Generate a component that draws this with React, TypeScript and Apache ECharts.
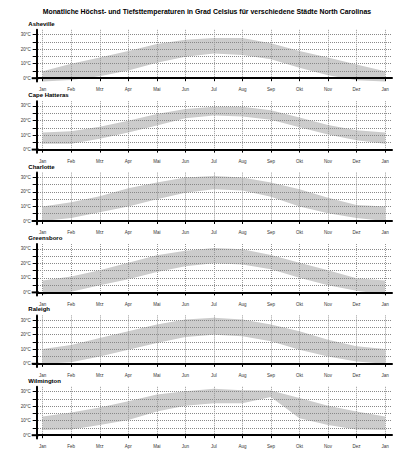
import { useEffect, useRef } from 'react';
import * as echarts from 'echarts';

const months = ['Jan', 'Feb', 'Mrz', 'Apr', 'Mai', 'Jun', 'Jul', 'Aug', 'Sep', 'Okt', 'Nov', 'Dez', 'Jan'];
const cities = ['Asheville', 'Cape Hatteras', 'Charlotte', 'Greensboro', 'Raleigh', 'Wilmington'];

const ashevilleHigh = [4.7, 10, 14.2, 18.8, 23.5, 26.5, 27.7, 27.7, 24, 18.8, 14.2, 9.5, 4.7];
const ashevilleLow = [-2.3, -1.3, 1.4, 5.3, 10.7, 14.7, 17, 16, 13, 7.2, 2.1, -1.4, -2.3];
const capeHatterasHigh = [11.8, 12.7, 15.8, 19.8, 24.5, 28, 29.4, 29.4, 27, 22, 17, 13.4, 11.8];
const capeHatterasLow = [4, 4, 7.5, 11.8, 16.5, 21.6, 23.5, 22.8, 20.5, 15.3, 10.4, 6.4, 4];
const charlotteHigh = [10, 12.9, 17, 22.5, 26.5, 30, 31, 30, 26.5, 21.8, 16, 11, 10];
const charlotteLow = [0, 2, 6, 10, 15, 19.5, 21.8, 21, 16.6, 10, 5.4, 2, 0];
const greensboroHigh = [8.2, 11, 15.2, 20.4, 25.5, 28.6, 30.5, 29.7, 25.8, 20.4, 15.2, 9.8, 8.2];
const greensboroLow = [-1.4, 0.5, 5, 9, 14, 18, 20, 19.2, 16, 10, 5, 1.2, -1.4];
const raleighHigh = [10.2, 13, 17.8, 22.4, 27, 30.5, 31.6, 30.5, 27, 22.4, 16.6, 12, 10.2];
const raleighLow = [0, 1, 5, 9.7, 14.3, 18.5, 20, 19, 15.5, 9.7, 5, 1.6, 0];
const wilmingtonHigh = [12.8, 15.6, 19, 23.3, 28, 30.2, 31.9, 31, 30.7, 25.6, 20.2, 16.3, 12.8];
const wilmingtonLow = [3.5, 4, 7, 10.5, 16.3, 20.2, 22, 22, 26.3, 11.6, 7, 4, 3.5];

const highs = [ashevilleHigh, capeHatterasHigh, charlotteHigh, greensboroHigh, raleighHigh, wilmingtonHigh];
const lows = [ashevilleLow, capeHatterasLow, charlotteLow, greensboroLow, raleighLow, wilmingtonLow];

const yTickValues = [0, 5, 10, 15, 20, 25, 30];
const yLabelValues = [0, 10, 20, 30];
const xTickValues = months.map((_, k) => k);

const TITLE = 'Monatliche Höchst- und Tiefsttemperaturen in Grad Celsius für verschiedene Städte North Carolinas';
const FONT = '"Liberation Sans", Arial, Helvetica, sans-serif';

// layout
const W = 400;
const H = 457;
const GRID_LEFT = 38;
const GRID_RIGHT = 8;
const FIRST_TOP = 29.8;
const STEP = 71.4;
const GRID_H = 51.6;
const X_MIN = -0.165;
const X_MAX = 12.245;
const Y_MIN = -2.2;
const Y_MAX = 33.3;
const AXIS_EXT_LEFT = 31.7;

export default function App() {
  const ref = useRef<HTMLDivElement>(null);

  useEffect(() => {
    if (!ref.current) return;
    const chart = echarts.init(ref.current, null, { renderer: 'svg', width: W, height: H });

    const grids = cities.map((_, i) => ({
      left: GRID_LEFT,
      right: GRID_RIGHT,
      top: FIRST_TOP + STEP * i,
      height: GRID_H,
      outerBoundsMode: 'none',
      containLabel: false,
    }));

    const xAxes = cities.map((_, i) => ({
      type: 'value',
      gridIndex: i,
      min: X_MIN,
      max: X_MAX,
      z: 3,
      axisLine: { show: true, onZero: true, lineStyle: { color: '#000', width: 2 } },
      axisTick: { show: true, customValues: xTickValues, length: 3, lineStyle: { color: '#000', width: 1 } },
      axisLabel: {
        show: true,
        customValues: xTickValues,
        formatter: (v: number) => months[Math.round(v)] ?? '',
        fontSize: 4.5,
        color: '#333',
        fontFamily: FONT,
        margin: 6,
        hideOverlap: false,
      },
      splitLine: { show: true, lineStyle: { color: '#999', width: 1, type: [1, 1] } },
    }));

    const yAxes = cities.map((_, i) => ({
      type: 'value',
      gridIndex: i,
      min: Y_MIN,
      max: Y_MAX,
      offset: 1.3,
      z: 3,
      axisLine: { show: true, onZero: false, lineStyle: { color: '#000', width: 2 } },
      axisTick: { show: true, customValues: yTickValues, length: 4, lineStyle: { color: '#000', width: 1 } },
      axisLabel: {
        show: true,
        customValues: yLabelValues,
        formatter: (v: number) => `${v}°C`,
        fontSize: 4.5,
        color: '#333',
        fontFamily: FONT,
        margin: 6,
        hideOverlap: false,
      },
      splitLine: { show: true, lineStyle: { color: '#888', width: 1, type: [1, 1] } },
    }));

    const series = cities.map((_, i) => ({
      type: 'custom',
      xAxisIndex: i,
      yAxisIndex: i,
      z: 1,
      silent: true,
      clip: false,
      data: months.map((_m, k) => [k, lows[i][k], highs[i][k]]),
      encode: { x: 0, y: [1, 2] },
      renderItem: (params: any, api: any) => {
        if (params.dataIndex !== 0) return null;
        const pts: number[][] = [];
        for (let k = 0; k < months.length; k++) pts.push(api.coord([k, highs[i][k]]));
        for (let k = months.length - 1; k >= 0; k--) pts.push(api.coord([k, lows[i][k]]));
        return { type: 'polygon', shape: { points: pts }, style: { fill: '#cccccc', stroke: 'none' } };
      },
    }));

    const titles: any[] = [
      {
        text: TITLE,
        left: 42.7,
        top: 8.3,
        textStyle: { fontSize: 6.9, fontWeight: 'bold', color: '#000', fontFamily: FONT },
        padding: 0,
      },
      ...cities.map((c, i) => ({
        text: c,
        left: 28.3,
        top: FIRST_TOP + STEP * i - 9,
        padding: 0,
        textStyle: { fontSize: 6, fontWeight: 'bold', color: '#000', fontFamily: FONT },
      })),
    ];

    chart.setOption({
      animation: false,
      backgroundColor: '#fff',
      title: titles,
      grid: grids,
      xAxis: xAxes,
      yAxis: yAxes,
      series,
    } as any);

    const lines = cities.map((_, i) => {
      const p = chart.convertToPixel({ gridIndex: i } as any, [X_MIN, 0]) as number[];
      return {
        type: 'line',
        z: 10,
        silent: true,
        shape: { x1: AXIS_EXT_LEFT, y1: p[1], x2: p[0] + 1, y2: p[1] },
        style: { stroke: '#000', lineWidth: 2 },
      };
    });
    chart.setOption({ graphic: lines } as any);

    return () => chart.dispose();
  }, []);

  return (
    <div
      ref={ref}
      style={{ position: 'absolute', left: 0, top: 0, width: W, height: H, background: '#fff' }}
    />
  );
}
